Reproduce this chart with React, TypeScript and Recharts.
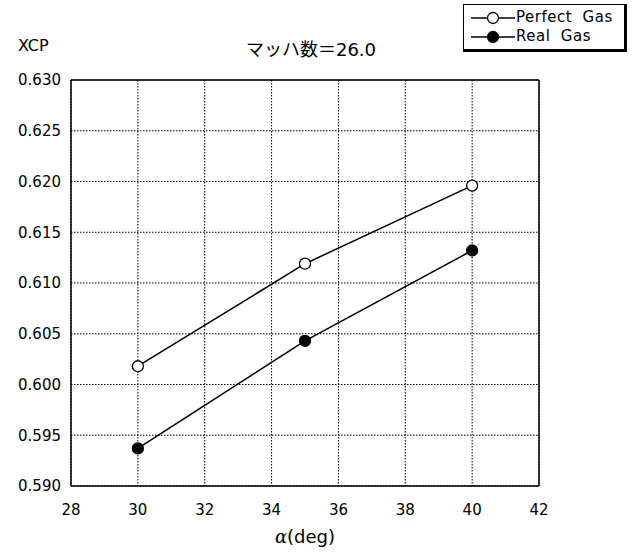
import { LineChart, Line, XAxis, YAxis, CartesianGrid, ReferenceLine } from "recharts";

const alphaDeg = [30, 35, 40];
const perfectGas = [0.6018, 0.6119, 0.6196];
const realGas = [0.5937, 0.6043, 0.6132];
const xTicks = [28, 30, 32, 34, 36, 38, 40, 42];
const yTicks = [0.59, 0.595, 0.6, 0.605, 0.61, 0.615, 0.62, 0.625, 0.63];

const data = alphaDeg.map((a, i) => ({ alpha: a, perfect: perfectGas[i], real: realGas[i] }));

const font = "'DejaVu Sans', 'Noto Sans CJK JP', sans-serif";

function LegendBox() {
    return (
        <div
            style={{
                position: "absolute",
                left: 463,
                top: 4,
                border: "1px solid #000",
                borderRight: "3px solid #000",
                borderBottom: "3px solid #000",
                background: "#fff",
                padding: "3px 2px 3px 7px",
                fontFamily: font,
                fontSize: 15,
                letterSpacing: 0.5,
                lineHeight: "19px",
                width: 151,
            }}
        >
            {[
                { label: "Perfect\u00a0\u00a0Gas", fill: "#fff" },
                { label: "Real\u00a0\u00a0Gas", fill: "#000" },
            ].map((d) => (
                <div key={d.label} style={{ display: "flex", alignItems: "center" }}>
                    <svg width={44} height={14}>
                        <line x1={0} y1={7} x2={44} y2={7} stroke="#000" strokeWidth={1.5} />
                        <circle cx={22} cy={7} r={5.5} fill={d.fill} stroke="#000" strokeWidth={1.3} />
                    </svg>
                    <span style={{ marginLeft: 1 }}>{d.label}</span>
                </div>
            ))}
        </div>
    );
}

export default function App() {
    return (
        <div style={{ position: "absolute", left: 0, top: 0, width: 636, height: 553, background: "#fff" }}>
            <LineChart width={636} height={553} data={data} margin={{ top: 80, right: 97, bottom: 37, left: 11 }}>
                <CartesianGrid stroke="#000" strokeDasharray="1.5 1.5" strokeWidth={1} />
                <XAxis
                    dataKey="alpha"
                    type="number"
                    domain={[28, 42]}
                    ticks={xTicks}
                    height={30}
                    tickLine={false}
                    axisLine={{ stroke: "#000", strokeWidth: 1.5 }}
                    tick={{ fill: "#000", fontSize: 15, fontFamily: font, dy: 10 }}
                />
                <YAxis
                    type="number"
                    domain={[0.59, 0.63]}
                    ticks={yTicks}
                    width={60}
                    tickLine={false}
                    axisLine={{ stroke: "#000", strokeWidth: 1.5 }}
                    tickFormatter={(v: number) => v.toFixed(3)}
                    tick={{ fill: "#000", fontSize: 15, fontFamily: font, dx: -2 }}
                />
                <ReferenceLine x={42} stroke="#000" strokeWidth={1.5} />
                <ReferenceLine y={0.63} stroke="#000" strokeWidth={1.5} />
                <Line
                    dataKey="perfect"
                    stroke="#000"
                    strokeWidth={1.5}
                    isAnimationActive={false}
                    dot={{ r: 5.5, fill: "#fff", stroke: "#000", strokeWidth: 1.3 }}
                />
                <Line
                    dataKey="real"
                    stroke="#000"
                    strokeWidth={1.5}
                    isAnimationActive={false}
                    dot={{ r: 5.5, fill: "#000", stroke: "#000", strokeWidth: 1.3 }}
                />
            </LineChart>
            <LegendBox />
            <div style={{ position: "absolute", left: 18, top: 36, fontFamily: font, fontSize: 16 }}>XCP</div>
            <div
                style={{ position: "absolute", left: 220, top: 35, width: 182, textAlign: "center", fontFamily: font, fontSize: 18 }}
            >
                マッハ数＝26.0
            </div>
            <div
                style={{ position: "absolute", left: 255, top: 526, width: 100, textAlign: "center", fontFamily: font, fontSize: 18 }}
            >
                <i style={{ fontFamily: "'DejaVu Serif', serif" }}>α</i>(deg)
            </div>
        </div>
    );
}
